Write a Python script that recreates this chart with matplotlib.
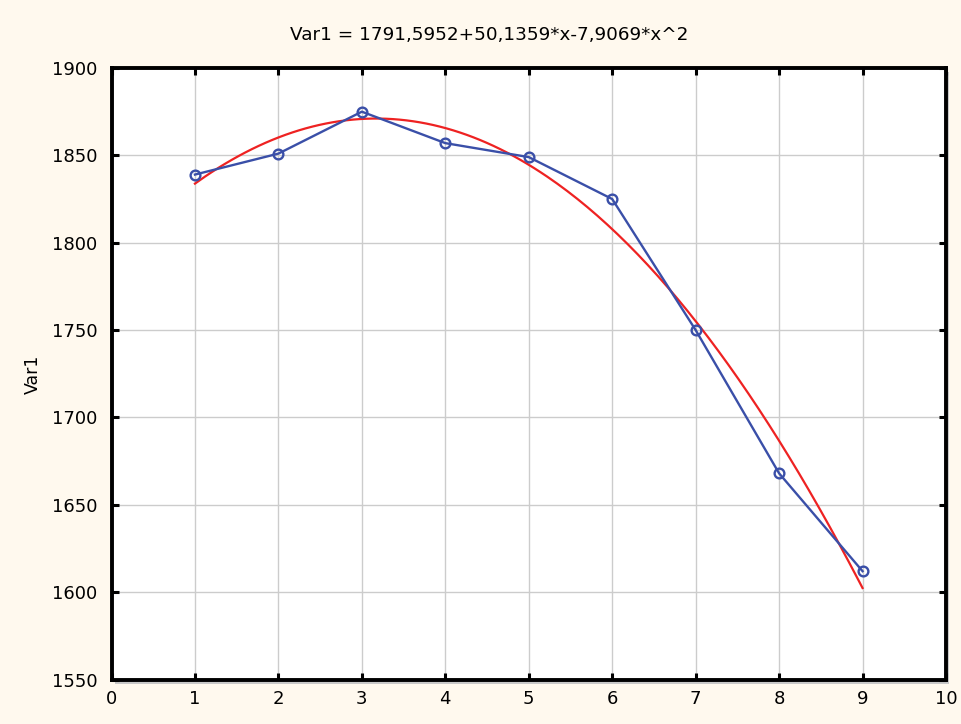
import numpy as np
import matplotlib
matplotlib.use("Agg")
import matplotlib.pyplot as plt
from matplotlib.patches import Rectangle

x_vals = [1, 2, 3, 4, 5, 6, 7, 8, 9]
var1 = [1839, 1851, 1875, 1857, 1849, 1825, 1750, 1668, 1612]
fit_coef = [1791.5952, 50.1359, -7.9069]  # a + b*x + c*x^2
title = "Var1 = 1791,5952+50,1359*x-7,9069*x^2"
xticks = list(range(0, 11))
yticks = [1550, 1600, 1650, 1700, 1750, 1800, 1850, 1900]

plt.rcParams['font.family'] = ['DejaVu Sans']

fig = plt.figure(figsize=(9.61, 7.24), dpi=100)
fig.patch.set_facecolor('#FFF9EE')
L, B, R, T = 111.5 / 961, 1 - 679.5 / 724, 946 / 961, 1 - 68 / 724
ax = fig.add_axes([L, B, R - L, T - B])
ax.set_facecolor('white')

# shadow
fig.patches.append(Rectangle((L + 3 / 961, B - 4 / 724), R - L, T - B,
                             transform=fig.transFigure, facecolor='#c8c8c8',
                             edgecolor='none', zorder=-1))

xf = np.linspace(x_vals[0], x_vals[-1], 200)
yf = fit_coef[0] + fit_coef[1] * xf + fit_coef[2] * xf ** 2
ax.plot(xf, yf, color='#EE2222', lw=1.6, zorder=3)
ax.plot(x_vals, var1, color='#3A4FA8', lw=1.7, marker='o', markersize=7,
        markerfacecolor='none', markeredgewidth=1.7, zorder=4)

ax.set_xlim(0, 10)
ax.set_ylim(1550, 1900)
ax.set_xticks(xticks)
ax.set_yticks(yticks)
ax.grid(True, color='#cccccc', lw=1.0)
ax.set_axisbelow(True)
for s in ax.spines.values():
    s.set_linewidth(2.8)
    s.set_color('black')
ax.tick_params(direction='in', length=5, width=2.2, top=True, right=True,
               labelsize=13, colors='black')
ax.tick_params(axis='y', pad=10)
ax.tick_params(axis='x', pad=7.5)
fig.text(33 / 961, 1 - 374 / 724, 'Var1', rotation=90, ha='center', va='center',
         fontsize=12.5)
fig.text(489 / 961, 1 - 35 / 724, title, ha='center', va='center', fontsize=13.2)

fig.savefig('out.png', dpi=100, facecolor=fig.get_facecolor())
